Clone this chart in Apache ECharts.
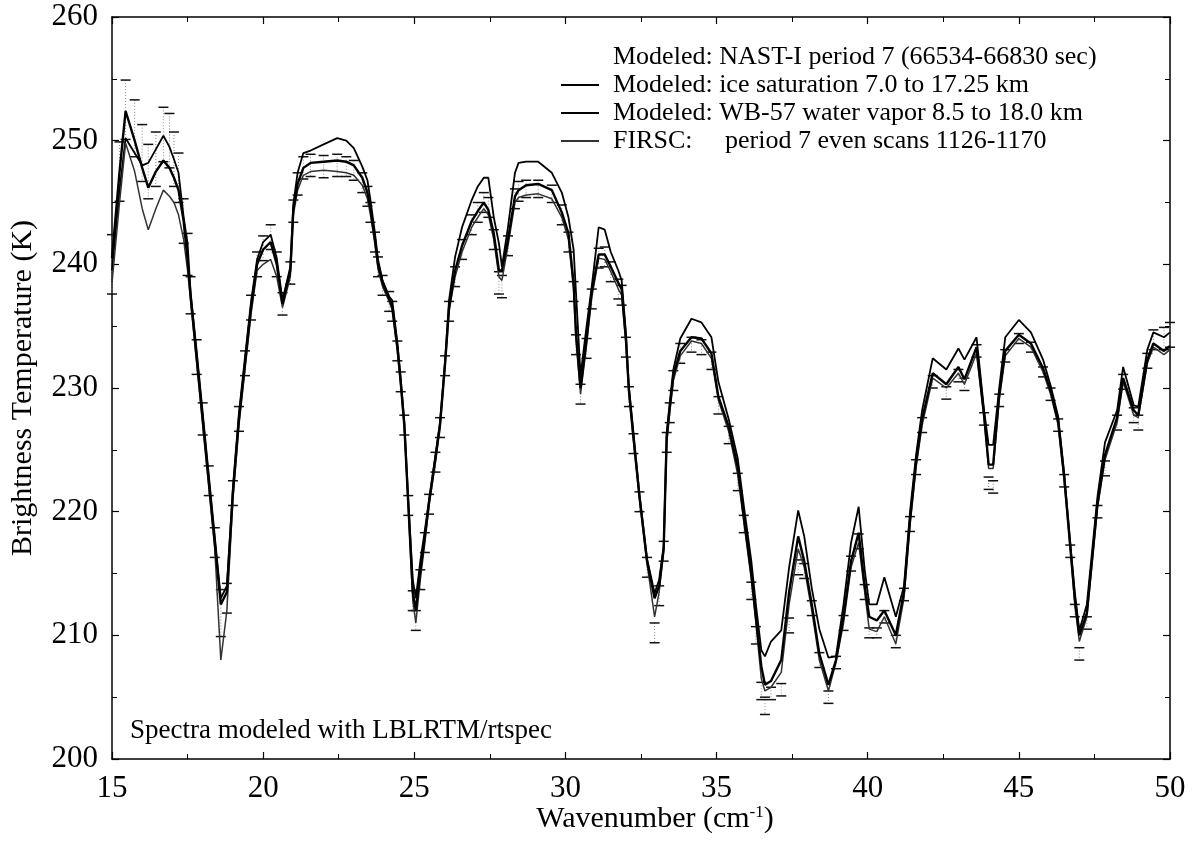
<!DOCTYPE html>
<html>
<head>
<meta charset="utf-8">
<script src="https://cdn.jsdelivr.net/npm/echarts@6/dist/echarts.min.js"></script>
<style>
  html, body { margin: 0; padding: 0; background: #fff; }
  #main { width: 1193px; height: 847px; }
</style>
</head>
<body>
<div id="main"></div>
<script>
// wavenumber (cm-1) sample positions
const wavenumber = [
  15.0, 15.25, 15.45, 15.75, 16.0, 16.2, 16.45, 16.7, 16.9, 17.05, 17.2, 17.37, 17.5, 17.6, 17.8, 18.0, 18.2, 18.4, 18.6, 18.8,
  19.0, 19.2, 19.4, 19.6, 19.8, 20.0, 20.25, 20.45, 20.64, 20.9, 21.0, 21.14, 21.33, 21.57, 22.0, 22.45, 22.75, 23.0, 23.28, 23.45,
  23.55, 23.7, 23.8, 23.95, 24.17, 24.27, 24.44, 24.55, 24.67, 24.8, 24.95, 25.05, 25.2, 25.35, 25.49, 25.7, 25.85, 26.02, 26.15, 26.35,
  26.58, 26.9, 27.1, 27.3, 27.45, 27.63, 27.8, 27.9, 28.1, 28.33, 28.45, 28.7, 29.1, 29.55, 29.88, 30.1, 30.27, 30.35, 30.5, 30.7,
  30.87, 31.1, 31.3, 31.5, 31.75, 31.86, 32.0, 32.1, 32.25, 32.45, 32.7, 32.95, 33.1, 33.25, 33.35, 33.45, 33.57, 33.8, 34.17, 34.5,
  34.83, 35.06, 35.4, 35.7, 35.9, 36.15, 36.3, 36.48, 36.6, 36.8, 37.14, 37.4, 37.7, 37.9, 38.15, 38.4, 38.7, 38.95, 39.2, 39.45,
  39.7, 39.9, 40.05, 40.3, 40.55, 40.93, 41.2, 41.4, 41.6, 41.8, 42.15, 42.6, 43.0, 43.2, 43.6, 43.85, 44.0, 44.15, 44.35, 44.55,
  45.0, 45.4, 45.8, 46.05, 46.3, 46.5, 46.7, 46.85, 47.0, 47.25, 47.6, 47.85, 48.25, 48.45, 48.8, 48.95, 49.25, 49.45, 49.8, 50.0
];

// Modeled: ice saturation 7.0 to 17.25 km
const iceSat = [
  239.5, 246, 250.2, 249, 248, 248.2, 249.3, 250.4, 249.5, 248.5, 247.4, 243.8, 241.7, 237.7, 233, 228, 223, 218, 213, 214,
  222, 228, 232.5, 237, 240.4, 241.8, 242.4, 240.5, 237.1, 239.8, 244.9, 247.4, 249, 249.2, 249.7, 250.2, 250.0, 249.4, 247.9, 246.8,
  245.2, 242.5, 240.4, 238.7, 237.4, 237.1, 233.7, 230.8, 227.3, 221, 214.5, 213, 216, 218.5, 221, 224.6, 227.2, 232.3, 237.1, 240.6,
  243, 245.2, 246.3, 247, 247, 243.8, 241.7, 239.8, 243, 247.4, 248.2, 248.3, 248.3, 247.4, 245.8, 243.8, 241.2, 237.7, 231, 235,
  238.2, 243, 242.8, 241, 239.5, 238.7, 234.5, 230.1, 226.4, 221.4, 216.2, 213.4, 214.5, 217.2, 226.4, 228.8, 231.5, 234, 235.6, 235.3,
  234.1, 230.5, 227.5, 224.3, 220.5, 216, 212.5, 208.8, 208.3, 209.5, 210.4, 215.5, 220.1, 218, 213.8, 210.5, 208.2, 208.3, 212.5, 217.5,
  220.4, 215.3, 212.5, 212.5, 214.7, 211.5, 214, 220, 224.6, 228.2, 232.4, 231.5, 233.2, 232.3, 234.1, 228.2, 225.4, 225.4, 230, 234.1,
  235.5, 234.5, 232.3, 230.2, 227.7, 223.1, 217.5, 213.5, 210.4, 212.5, 221.2, 225.6, 228.2, 231.7, 228.6, 228.5, 233.1, 234.5, 234.1, 234.5
];

// Modeled: WB-57 water vapor 8.5 to 18.0 km
const wb57 = [
  240.5, 247.5, 252.4, 250, 247.8, 246.2, 247.5, 248.4, 247.8, 247, 246, 243.5, 240.4, 237.5, 232.5, 227.5, 222.5, 217.5, 212.5, 213.5,
  221.5, 227.5, 232, 236.5, 240, 241.2, 241.8, 240, 236.8, 239.5, 244.5, 246.5, 247.8, 248.2, 248.3, 248.4, 248.3, 248, 247, 245.8,
  244.5, 242, 240, 238.5, 237.2, 236.6, 233.3, 230.5, 227, 220.7, 213.5, 212, 215.2, 218, 220.8, 224.3, 227, 232, 236.5, 239.5,
  241.5, 243.5, 244.3, 245, 244.4, 242.5, 239.5, 239.5, 242, 245.5, 246, 246.4, 246.5, 246, 244.2, 242.5, 238.5, 234.5, 230, 234,
  237.8, 240.8, 240.8, 239.8, 238.5, 238, 234, 229.8, 226, 221.2, 216, 213, 214, 217, 226, 228.4, 231, 233, 234.1, 234,
  232.8, 229.3, 226.9, 223.6, 219.6, 215, 211.5, 207.5, 206, 206.3, 208, 213.5, 218, 216, 212.5, 208.5, 206, 208, 211.5, 216,
  218.3, 214, 211.5, 211.2, 212, 210, 213.5, 219.3, 224, 227.5, 231.2, 230.3, 231.7, 230.7, 233.3, 227.8, 223.8, 223.8, 229.5, 233,
  234.3, 233.6, 231.6, 229.8, 227.3, 222.8, 217.2, 213, 210, 211.8, 220.6, 224.6, 227.6, 230.8, 228.2, 227.8, 232.3, 233.6, 233, 233.4
];

// FIRSC: period 7 even scans 1126-1170
const firsc = [
  238.5, 245, 249.8, 247.5, 244.5, 242.8, 244.5, 246, 245.5, 245, 244, 242, 239.5, 237, 232, 227, 222, 217, 208, 212,
  221, 227, 231.5, 236, 239.5, 240, 240.4, 239, 236.5, 239, 244, 246, 247.2, 247.5, 247.6, 247.5, 247.4, 247.2, 246.4, 245.3,
  244, 241.6, 239.6, 238.2, 237, 236.3, 233, 230.2, 226.8, 220.4, 212.8, 211, 214.5, 217.5, 220.5, 224, 226.8, 231.8, 236.2, 239,
  241, 243, 243.8, 244.5, 244, 242, 239, 238.7, 241.5, 245, 245.4, 245.6, 245.7, 245.3, 243.8, 242, 238, 233.8, 229.5, 233.5,
  237.3, 240.5, 240.4, 239.4, 238, 237.5, 233.6, 229.5, 225.8, 221, 215.8, 211.5, 213.5, 216.8, 225.5, 228, 230.6, 232.6, 233.8, 233.6,
  232.4, 229, 226.5, 223, 219.2, 214.5, 211, 206.5, 205.5, 205.8, 207, 212.5, 217, 215.5, 212, 208, 205.5, 207.8, 211, 215.5,
  217.5, 213.5, 210.5, 210.3, 211.5, 209.3, 213, 219, 223.6, 227, 230.8, 230, 231.2, 230.3, 232.8, 227.5, 223.5, 223.5, 229, 232.6,
  234, 233.3, 231.3, 229.5, 227, 222.5, 217, 212.5, 209.5, 211.5, 220.3, 224.2, 227.2, 230.5, 227.8, 227.6, 232, 233.3, 232.7, 233.1
];

// Modeled: NAST-I period 7, centre and half-width of error bars
const nastCenter = [
  240, 247.5, 252.5, 251, 249, 247.5, 248.5, 250.5, 250, 248.5, 247, 243.5, 240.8, 237.5, 232.5, 227.5, 222.5, 217.5, 211.8, 213,
  221.5, 227.5, 232, 236.5, 240, 241.3, 242.2, 240, 236.8, 239.3, 244.3, 246.5, 247.8, 248, 247.9, 248, 247.9, 247.6, 246.6, 245.5,
  244.2, 241.8, 239.8, 238.3, 237, 236.2, 233, 230.5, 227, 220.5, 212.8, 211.2, 214.5, 217.5, 220.6, 224, 226.8, 231.8, 236.2, 239,
  241.2, 243.2, 244.2, 245, 244.6, 242, 238.5, 238.2, 241.5, 245.3, 245.9, 246.1, 246.1, 245.7, 244, 241.8, 237.8, 233.5, 229.5, 233.2,
  237.2, 240.5, 240.6, 239.4, 238, 237.5, 233.3, 229.3, 225.5, 220.8, 215.5, 210.2, 213.2, 216.8, 225.6, 228, 230.6, 232.8, 233.5, 233.3,
  232.2, 228.6, 226.2, 222.4, 219, 213.6, 210, 205.5, 204.3, 205.3, 205.6, 210.8, 215.5, 215.2, 212.2, 208, 205, 207.8, 211, 215.8,
  217.6, 213.5, 210.2, 210.2, 211.5, 209.5, 213.3, 219, 223.6, 227, 230.5, 229.6, 231, 230.3, 233, 227.5, 222.3, 222, 229, 232.6,
  234, 233.3, 231.3, 229.5, 227, 222.5, 216.8, 212, 208.5, 211, 220, 223.5, 227.2, 230.5, 227.8, 227.2, 232.2, 233.9, 234, 234.3
];
const nastErr = [
  2.4, 2.4, 2.4, 2.3, 2.3, 2.2, 2.2, 2.2, 2.2, 2.2, 2.0, 1.8, 1.7, 1.5, 1.4, 1.3, 1.2, 1.2, 1.9, 1.2,
  1.0, 1.0, 1.0, 1.0, 1.0, 1.0, 1.0, 1.0, 0.9, 0.9, 0.9, 0.9, 0.9, 0.9, 0.9, 0.9, 0.8, 0.8, 0.8, 0.8,
  0.8, 0.8, 0.8, 0.8, 0.8, 0.8, 0.8, 0.8, 0.8, 0.8, 0.8, 0.8, 0.8, 0.8, 0.8, 0.8, 0.8, 0.8, 0.8, 0.8,
  0.8, 0.8, 0.8, 0.8, 0.8, 0.8, 0.9, 0.9, 0.8, 0.8, 0.8, 0.7, 0.7, 0.7, 0.8, 0.8, 0.8, 0.8, 0.8, 0.8,
  0.8, 0.8, 0.8, 0.8, 0.8, 0.8, 0.8, 0.8, 0.8, 0.8, 0.8, 0.8, 0.8, 0.8, 0.8, 0.8, 0.8, 0.8, 0.6, 0.6,
  0.7, 0.7, 0.7, 0.7, 0.7, 0.7, 0.7, 0.7, 0.7, 0.5, 0.5, 0.6, 0.6, 0.6, 0.6, 0.6, 0.5, 0.5, 0.6, 0.6,
  0.6, 0.6, 0.4, 0.4, 0.5, 0.5, 0.5, 0.6, 0.6, 0.6, 0.5, 0.5, 0.5, 0.5, 0.5, 0.5, 0.5, 0.5, 0.5, 0.5,
  0.4, 0.4, 0.4, 0.5, 0.5, 0.5, 0.5, 0.5, 0.5, 0.5, 0.5, 0.6, 0.6, 0.6, 0.6, 0.6, 0.6, 0.8, 0.9, 1.0
];

const legendNames = [
  'Modeled: NAST-I period 7 (66534-66830 sec)',
  'Modeled: ice saturation 7.0 to 17.25 km',
  'Modeled: WB-57 water vapor 8.5 to 18.0 km',
  'FIRSC:     period 7 even scans 1126-1170'
];

const font = '"Liberation Serif", "DejaVu Serif", serif';

function pairs(arr) {
  return wavenumber.map((x, i) => [x, arr[i]]);
}

const chart = echarts.init(document.getElementById('main'));

function errorBar(params, api) {
  const x = api.value(0);
  const y = api.value(1);
  const e = api.value(2);
  const hi = api.coord([x, y + e]);
  const lo = api.coord([x, y - e]);
  const w = 5;
  return {
    type: 'group',
    children: [
      { type: 'line', shape: { x1: hi[0], y1: hi[1], x2: lo[0], y2: lo[1] },
        style: { stroke: '#888', lineWidth: 1, lineDash: [1, 2] } },
      { type: 'line', shape: { x1: hi[0] - w, y1: hi[1], x2: hi[0] + w, y2: hi[1] },
        style: { stroke: '#111', lineWidth: 1.5 } },
      { type: 'line', shape: { x1: lo[0] - w, y1: lo[1], x2: lo[0] + w, y2: lo[1] },
        style: { stroke: '#111', lineWidth: 1.5 } }
    ]
  };
}

const axisCommon = {
  type: 'value',
  axisLine: { show: true, onZero: false, lineStyle: { color: '#000', width: 1.5 } },
  axisTick: { show: true, inside: true, length: 7, lineStyle: { color: '#000', width: 1.2 } },
  minorTick: { show: true, splitNumber: 2, length: 5, lineStyle: { color: '#000', width: 1 } },
  splitLine: { show: false },
  minorSplitLine: { show: false }
};

const option = {
  backgroundColor: '#fff',
  animation: false,
  textStyle: { fontFamily: font, color: '#000' },
  grid: { left: 109, right: 23, top: 17, bottom: 88, containLabel: false },
  legend: {
    orient: 'vertical',
    left: 556,
    top: 39,
    itemWidth: 38,
    itemHeight: 2,
    itemGap: 2,
    textStyle: { fontFamily: font, fontSize: 26, color: '#000', padding: [0, 0, 0, 9] },
    data: [
      { name: legendNames[0], icon: 'none' },
      { name: legendNames[1], icon: 'rect' },
      { name: legendNames[2], icon: 'rect' },
      { name: legendNames[3], icon: 'rect' }
    ]
  },
  xAxis: [
    Object.assign({}, axisCommon, {
      min: 15, max: 50, interval: 5,
      position: 'bottom',
      axisLabel: { fontFamily: font, fontSize: 31, color: '#000', margin: 14 },
      name: '{a|Wavenumber (cm}{s|-1}{a|)}',
      nameLocation: 'middle',
      nameGap: 45,
      nameMoveOverlap: false,
      nameTextStyle: {
        padding: [0, 0, 0, 28],
        rich: {
          a: { fontFamily: font, fontSize: 30, color: '#000' },
          s: { fontFamily: font, fontSize: 17, color: '#000', verticalAlign: 'top', padding: [0, 0, 14, 0] }
        }
      }
    }),
    Object.assign({}, axisCommon, {
      min: 15, max: 50, interval: 5,
      position: 'top',
      axisLabel: { show: false }
    })
  ],
  yAxis: [
    Object.assign({}, axisCommon, {
      min: 200, max: 260, interval: 10,
      position: 'left',
      axisLabel: { fontFamily: font, fontSize: 31, color: '#000', margin: 14 },
      name: 'Brightness Temperature (K)',
      nameLocation: 'middle',
      nameGap: 74,
      nameMoveOverlap: false,
      nameTextStyle: { fontFamily: font, fontSize: 30, color: '#000' }
    }),
    Object.assign({}, axisCommon, {
      min: 200, max: 260, interval: 10,
      position: 'right',
      axisLabel: { show: false }
    })
  ],
  graphic: [
    {
      type: 'text',
      left: 130,
      top: 717,
      style: { text: 'Spectra modeled with LBLRTM/rtspec', fontFamily: font, fontSize: 27, fill: '#000' }
    }
  ],
  series: [
    {
      name: legendNames[0],
      type: 'custom',
      renderItem: errorBar,
      data: wavenumber.map((x, i) => [x, nastCenter[i], nastErr[i]]),
      encode: { x: 0, y: 1 },
      z: 3
    },
    {
      name: legendNames[1],
      type: 'line',
      data: pairs(iceSat),
      symbol: 'none',
      lineStyle: { color: '#000', width: 1.8 },
      itemStyle: { color: '#000' },
      z: 4
    },
    {
      name: legendNames[2],
      type: 'line',
      data: pairs(wb57),
      symbol: 'none',
      lineStyle: { color: '#000', width: 2.4 },
      itemStyle: { color: '#000' },
      z: 5
    },
    {
      name: legendNames[3],
      type: 'line',
      data: pairs(firsc),
      symbol: 'none',
      lineStyle: { color: '#333', width: 1.5 },
      itemStyle: { color: '#333' },
      z: 4
    }
  ]
};

chart.setOption(option);
</script>
</body>
</html>
